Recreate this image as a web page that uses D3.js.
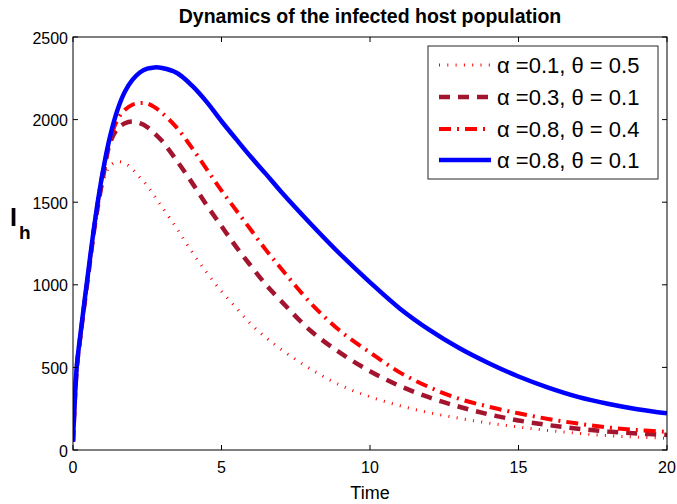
<!DOCTYPE html>
<html>
<head>
<meta charset="utf-8">
<script src="https://cdn.jsdelivr.net/npm/d3@7"></script>
<style>
  html, body { margin:0; padding:0; background:#fff; }
  svg { display:block; font-family:"Liberation Sans", Arial, Helvetica, sans-serif; }
</style>
</head>
<body>
<svg id="chart" width="677" height="504"></svg>
<script>
/* ---------- data --------------------------------------------- */
const time = [0, 0.125, 0.25, 0.5, 0.75, 1, 1.25, 1.5, 1.75, 2, 2.25, 2.5, 2.75, 3, 3.5, 4, 4.5,
              5, 5.5, 6, 6.5, 7, 8, 9, 10, 11, 12, 13, 14, 15, 16, 17, 18, 19, 20];

const ihA01T05 = [50, 480, 680, 1020, 1350, 1610, 1720, 1745, 1735, 1700, 1650, 1600, 1535, 1470, 1340, 1200, 1075,
                  960, 860, 760, 680, 610, 490, 392, 322, 268, 226, 192, 163, 139, 118, 101, 87, 78, 71];
const ihA03T01 = [50, 490, 690, 1040, 1380, 1640, 1860, 1945, 1978, 1988, 1978, 1955, 1915, 1870, 1750, 1620, 1482,
                  1355, 1228, 1112, 1000, 903, 722, 588, 477, 388, 318, 262, 216, 179, 151, 129, 112, 100, 91];
const ihA08T04 = [50, 490, 690, 1050, 1400, 1680, 1880, 2000, 2060, 2090, 2100, 2098, 2075, 2040, 1950, 1830, 1700,
                  1570, 1450, 1330, 1210, 1100, 890, 720, 590, 470, 380, 310, 262, 222, 188, 160, 137, 121, 110];
const ihA08T01 = [50, 500, 700, 1060, 1400, 1680, 1900, 2060, 2170, 2240, 2285, 2308, 2316, 2312, 2282, 2207, 2107,
                  1990, 1880, 1772, 1670, 1565, 1370, 1185, 1015, 857, 727, 617, 525, 445, 378, 322, 280, 247, 222];

const seriesLabels = ["\u03b1 =0.1, \u03b8 = 0.5", "\u03b1 =0.3, \u03b8 = 0.1",
                      "\u03b1 =0.8, \u03b8 = 0.4", "\u03b1 =0.8, \u03b8 = 0.1"];
const xTicks = [0, 5, 10, 15, 20];
const yTicks = [0, 500, 1000, 1500, 2000, 2500];

/* ---------- styles per series --------------------------------- */
const styles = [
  {color:"#ff0000", width:3,   dash:"1,7.3"},
  {color:"#a3142e", width:4.5, dash:"11,8"},
  {color:"#ff0000", width:4,   dash:"12,6,2,6"},
  {color:"#0000ff", width:4.5, dash:null}
];
const series = [ihA01T05, ihA03T01, ihA08T04, ihA08T01].map((vals, i) => ({
  label: seriesLabels[i],
  style: styles[i],
  points: time.map((t, j) => ({t, v: vals[j]}))
}));

/* ---------- layout -------------------------------------------- */
const svg = d3.select("#chart");
const plot = {left:73, right:667, top:37, bottom:450};

const x = d3.scaleLinear().domain([0, 20]).range([plot.left, plot.right]);
const y = d3.scaleLinear().domain([0, 2500]).range([plot.bottom, plot.top]);

/* ---------- curves -------------------------------------------- */
const clipId = "clip-plot";
svg.append("defs").append("clipPath").attr("id", clipId)
   .append("rect")
    .attr("x", plot.left).attr("y", plot.top)
    .attr("width", plot.right - plot.left).attr("height", plot.bottom - plot.top);

const line = d3.line()
  .x(d => x(d.t))
  .y(d => y(d.v))
  .curve(d3.curveCatmullRom.alpha(0.5));

svg.append("g").attr("clip-path", `url(#${clipId})`)
  .selectAll("path")
  .data(series)
  .enter().append("path")
    .attr("d", d => line(d.points))
    .attr("fill", "none")
    .attr("stroke", d => d.style.color)
    .attr("stroke-width", d => d.style.width)
    .attr("stroke-dasharray", d => d.style.dash)
    .attr("stroke-linejoin", "round");

/* ---------- axes (MATLAB box, inward ticks) -------------------- */
const tickLen = 5;
const axisG = svg.append("g").attr("stroke", "#000").attr("stroke-width", 1);

axisG.append("rect")
  .attr("x", plot.left).attr("y", plot.top)
  .attr("width", plot.right - plot.left).attr("height", plot.bottom - plot.top)
  .attr("fill", "none");

xTicks.forEach(t => {
  axisG.append("line").attr("x1", x(t)).attr("x2", x(t))
    .attr("y1", plot.bottom).attr("y2", plot.bottom - tickLen);
  axisG.append("line").attr("x1", x(t)).attr("x2", x(t))
    .attr("y1", plot.top).attr("y2", plot.top + tickLen);
});
yTicks.forEach(v => {
  axisG.append("line").attr("y1", y(v)).attr("y2", y(v))
    .attr("x1", plot.left).attr("x2", plot.left + tickLen);
  axisG.append("line").attr("y1", y(v)).attr("y2", y(v))
    .attr("x1", plot.right).attr("x2", plot.right - tickLen);
});

svg.append("g").selectAll("text")
  .data(xTicks)
  .enter().append("text")
    .attr("x", d => x(d))
    .attr("y", 472.5)
    .attr("text-anchor", "middle")
    .attr("font-size", 16)
    .text(d => d);

svg.append("g").selectAll("text")
  .data(yTicks)
  .enter().append("text")
    .attr("x", 68)
    .attr("y", d => y(d) + 6.5)
    .attr("text-anchor", "end")
    .attr("font-size", 16)
    .text(d => d);

/* ---------- titles -------------------------------------------- */
svg.append("text")
  .attr("x", 370).attr("y", 23)
  .attr("text-anchor", "middle")
  .attr("font-size", 19.5)
  .attr("font-weight", "bold")
  .text("Dynamics of the infected host population");

svg.append("text")
  .attr("x", 370).attr("y", 499)
  .attr("text-anchor", "middle")
  .attr("font-size", 18)
  .text("Time");

const yLab = svg.append("text")
  .attr("x", 10).attr("y", 226)
  .attr("font-weight", "bold");
yLab.append("tspan").attr("font-size", 25).text("I");
yLab.append("tspan").attr("font-size", 19).attr("dx", 2).attr("dy", 13).text("h");

/* ---------- legend -------------------------------------------- */
const leg = {x:428, y:46, w:230, h:133};
const legG = svg.append("g");
legG.append("rect")
  .attr("x", leg.x).attr("y", leg.y)
  .attr("width", leg.w).attr("height", leg.h)
  .attr("fill", "#fff")
  .attr("stroke", "#262626")
  .attr("stroke-width", 1);

const rowY = [65, 97, 129, 160];
const rows = legG.selectAll("g.row")
  .data(series)
  .enter().append("g")
    .attr("class", "row")
    .attr("transform", (d, i) => `translate(0,${rowY[i]})`);

rows.append("line")
  .attr("x1", 439).attr("x2", 491)
  .attr("y1", 0).attr("y2", 0)
  .attr("stroke", d => d.style.color)
  .attr("stroke-width", d => d.style.width)
  .attr("stroke-dasharray", d => d.style.dash);

rows.append("text")
  .attr("x", 497).attr("y", 8)
  .attr("font-size", 22)
  .text(d => d.label);
</script>
</body>
</html>
